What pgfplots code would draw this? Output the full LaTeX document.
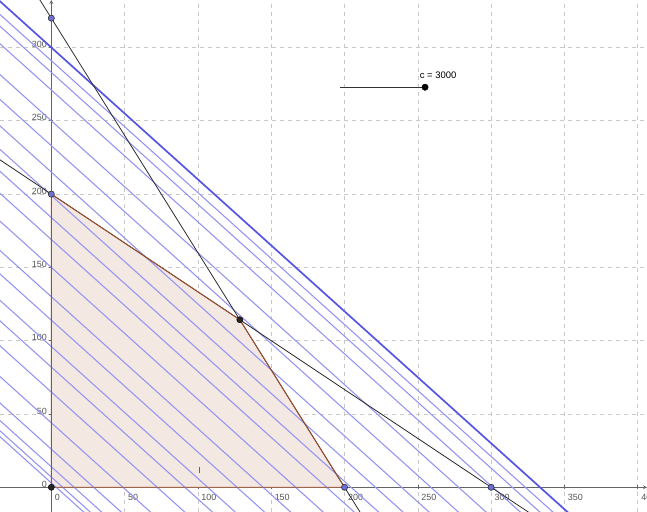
\documentclass[border=0pt]{standalone}
\usepackage{fontspec}
\setmainfont{Liberation Sans}
\usepackage{pgfplots}
\pgfplotsset{compat=1.18}

\definecolor{gridc}{RGB}{200,200,200}
\definecolor{axisc}{RGB}{100,100,100}
\definecolor{labc}{RGB}{85,85,85}
\definecolor{thinb}{RGB}{150,150,240}
\definecolor{thickb}{RGB}{85,85,228}
\definecolor{regfill}{RGB}{244,232,227}
\definecolor{regedge}{RGB}{160,80,40}
\definecolor{ptblue}{RGB}{110,110,215}
\definecolor{darkl}{RGB}{45,45,45}

\begin{document}
\begin{tikzpicture}
\begin{axis}[
  name=ax,
  scale only axis, width=647bp, height=512bp,
  xmin=-35, xmax=406.3, ymin=-16.85, ymax=332.4,
  axis lines=middle,
  axis line style={draw=axisc, line width=0.8bp, -stealth},
  xtick={0,50,...,400}, ytick={0,50,...,300},
  hide obscured x ticks=false, hide obscured y ticks=false,
  grid=major,
  major grid style={gridc, dash pattern=on 4bp off 4bp, line width=0.6bp},
  tick style={axisc, line width=0.6bp}, major tick length=4bp, tick align=center,
  tick label style={font=\fontsize{9}{11}\selectfont, text=labc},
  /pgf/number format/assume math mode=true,
  xticklabel style={anchor=north west, xshift=0bp, yshift=-1bp},
  yticklabel style={anchor=east, xshift=1bp, yshift=3bp},
  clip=true,
]
% feasible region
\addplot[fill=regfill, draw=none] coordinates {(0,0) (200,0) (128.57,114.29) (0,200) (0,0)};

% level lines 9x + 10y = k (traced)
\addplot[thinb, line width=1.1bp] coordinates {(-40,39) (420,-375)};
\addplot[thinb, line width=1.1bp] coordinates {(-40,43) (420,-371)};
\addplot[thinb, line width=1.1bp] coordinates {(-40,50) (420,-364)};
\addplot[thinb, line width=1.1bp] coordinates {(-40,62) (420,-352)};
\addplot[thinb, line width=1.1bp] coordinates {(-40,80) (420,-334)};
\addplot[thinb, line width=1.1bp] coordinates {(-40,101) (420,-313)};
\addplot[thinb, line width=1.1bp] coordinates {(-40,118) (420,-296)};
\addplot[thinb, line width=1.1bp] coordinates {(-40,132) (420,-282)};
\addplot[thinb, line width=1.1bp] coordinates {(-40,150) (420,-264)};
\addplot[thinb, line width=1.1bp] coordinates {(-40,166) (420,-248)};
\addplot[thinb, line width=1.1bp] coordinates {(-40,186) (420,-228)};
\addplot[thinb, line width=1.1bp] coordinates {(-40,205) (420,-209)};
\addplot[thinb, line width=1.1bp] coordinates {(-40,220) (420,-194)};
\addplot[thinb, line width=1.1bp] coordinates {(-40,235) (420,-179)};
\addplot[thinb, line width=1.1bp] coordinates {(-40,251) (420,-163)};
\addplot[thinb, line width=1.1bp] coordinates {(-40,269) (420,-145)};
\addplot[thinb, line width=1.1bp] coordinates {(-40,286) (420,-128)};
\addplot[thinb, line width=1.1bp] coordinates {(-40,307) (420,-107)};
\addplot[thinb, line width=1.1bp] coordinates {(-40,319) (420,-95)};
\addplot[thinb, line width=1.1bp] coordinates {(-40,327) (420,-87)};
% current level c = 3000
\addplot[thickb, line width=1.7bp] coordinates {(-40,336) (420,-78)};

% constraints
\addplot[darkl, line width=0.8bp] coordinates {(-40,226.67) (420,-80)};
\addplot[darkl, line width=0.8bp] coordinates {(-12,339.2) (230,-48)};

% region border
\addplot[regedge, line width=0.9bp] coordinates {(0,0) (200,0) (128.57,114.29) (0,200) (0,0)};
\addplot[regedge, line width=0.7bp] coordinates {(100.7,9.8) (100.7,13.9)};

% points
\addplot[only marks, mark=*, mark size=3.1bp, mark options={fill=ptblue, draw=darkl, line width=0.6bp}]
  coordinates {(0,320) (0,200) (200,0) (300,0)};
\addplot[only marks, mark=*, mark size=3.1bp, mark options={fill=black!85, draw=black}]
  coordinates {(0,0) (128.57,114.29)};

% slider
\addplot[black!80, line width=0.9bp] coordinates {(196.9,272.9) (254.9,272.9)};
\addplot[only marks, mark=*, mark size=3.2bp, black] coordinates {(254.9,272.9)};
\node[font=\fontsize{9.5}{11}\selectfont, text=black] at (axis cs:263.8,281.2) {c = 3000};
\end{axis}
\pgfresetboundingbox
\path (ax.south west) rectangle (ax.north east);
\end{tikzpicture}
\end{document}
